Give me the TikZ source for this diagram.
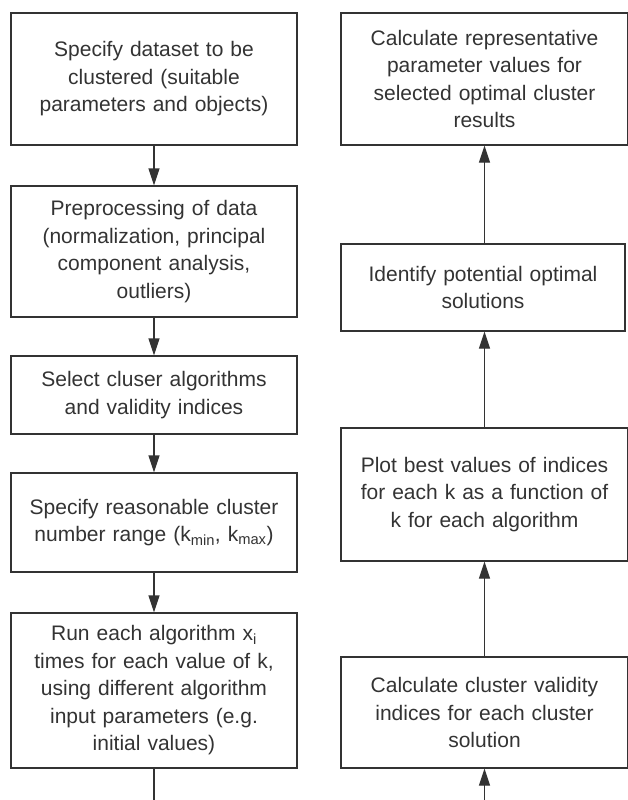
\documentclass[tikz,border=0pt]{standalone}
\usepackage{fontspec}
\setmainfont{Liberation Sans}
\usepackage{tikz}
\usetikzlibrary{arrows.meta}

\begin{document}
\begin{tikzpicture}[x=1pt, y=-1pt,
    stage/.style={draw=black!80, line width=1.3pt, rectangle, inner sep=0pt,
        align=center, text=black!80,
        font=\fontsize{21}{27.5}\selectfont},
    leftstage/.style={stage, minimum width=286pt, text width=275pt},
    rightstage/.style={stage, minimum width=287pt, text width=275pt},
    flow/.style={draw=black!80, line width=1.3pt,
        -{Triangle[length=17pt, width=11pt]}},
    ]

    \useasboundingbox (0, 0) rectangle (627, 800);

    % Left column (top to bottom)
    \node[leftstage, minimum height=132pt] (spec) at (154, 79)
        {Specify dataset to be\\clustered (suitable\\parameters and objects)};
    \node[leftstage, minimum height=131pt] (prep) at (154, 251.5)
        {Preprocessing of data\\(normalization, principal\\component analysis,\\outliers)};
    \node[leftstage, minimum height=78pt] (select) at (154, 395)
        {Select cluser algorithms\\and validity indices};
    \node[leftstage, minimum height=99pt] (range) at (154, 522.5)
        {Specify reasonable cluster\\number range (k\textsubscript{min}, k\textsubscript{max})};
    \node[leftstage, minimum height=155pt] (run) at (154, 690.5)
        {Run each algorithm x\textsubscript{i}\\times for each value of k,\\using different algorithm\\input parameters (e.g.\\initial values)};

    % Right column (bottom to top)
    \node[rightstage, minimum height=111pt] (valid) at (484.5, 712.5)
        {Calculate cluster validity\\indices for each cluster\\solution};
    \node[rightstage, minimum height=133pt] (plot) at (484.5, 494.5)
        {Plot best values of indices\\for each k as a function of\\k for each algorithm};
    \node[rightstage, minimum width=284pt, minimum height=87pt] (ident) at (483, 287.5)
        {Identify potential optimal\\solutions};
    \node[rightstage, minimum height=132pt] (repr) at (484.5, 79)
        {Calculate representative\\parameter values for\\selected optimal cluster\\results};

    % Free ends at the bottom edge
    \coordinate (runout) at (154, 801);
    \coordinate (validin) at (484.5, 801);

    % Draw arrows
    \draw[flow] (spec) -- (prep);
    \draw[flow] (prep) -- (select);
    \draw[flow] (select) -- (range);
    \draw[flow] (range) -- (run);
    \draw[draw=black!80, line width=1.3pt] (run) -- (runout);

    \draw[flow] (validin) -- (valid);
    \draw[flow] (valid) -- (plot);
    \draw[flow] (plot) -- (plot |- ident.south);
    \draw[flow] (repr |- ident.north) -- (repr);
\end{tikzpicture}
\end{document}
